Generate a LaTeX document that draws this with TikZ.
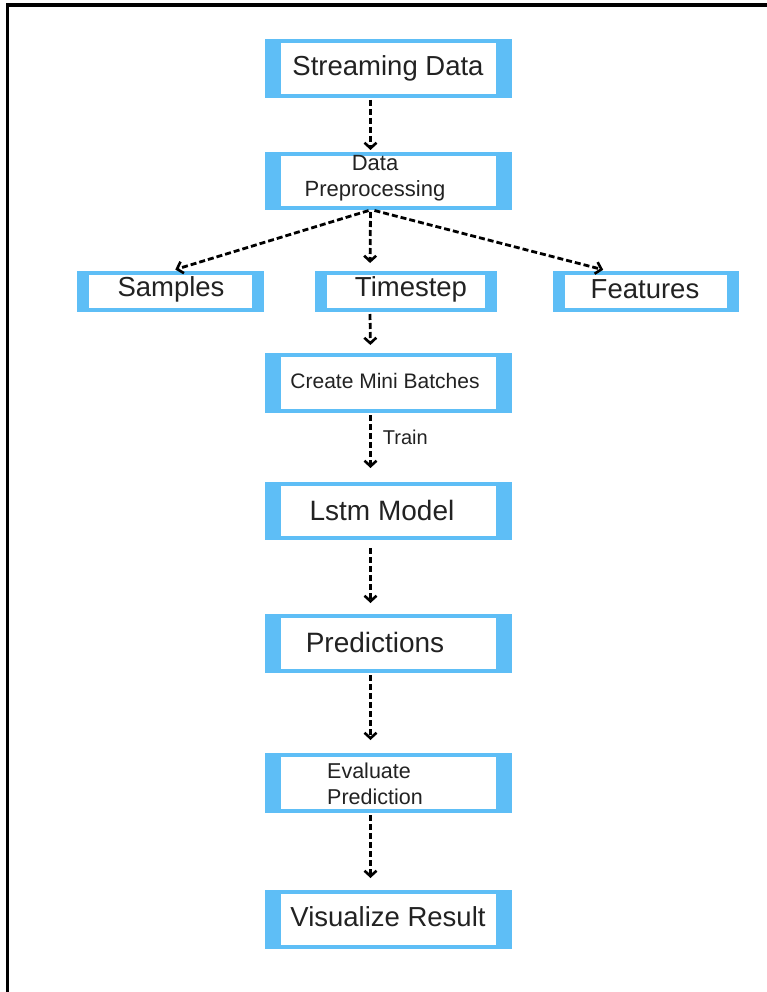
\documentclass[tikz,border=0pt]{standalone}
\usepackage{fontspec}
\setmainfont{Liberation Sans}
\usetikzlibrary{arrows.meta}
\definecolor{skyb}{RGB}{94,190,246}
\definecolor{ink}{RGB}{34,34,34}

\begin{document}
\begin{tikzpicture}[x=1pt,y=-1pt,
  mainbox/.style={rectangle, inner sep=0pt, outer sep=0pt, fill=skyb,
    minimum width=247pt, minimum height=59pt,
    path picture={\fill[white]
      ([xshift=16pt,yshift=4pt]path picture bounding box.south west) rectangle
      ([xshift=-16pt,yshift=-4pt]path picture bounding box.north east);}},
  rowbox/.style={rectangle, inner sep=0pt, outer sep=0pt, fill=skyb,
    minimum height=41pt,
    path picture={\fill[white]
      ([xshift=12pt,yshift=4pt]path picture bounding box.south west) rectangle
      ([xshift=-12pt,yshift=-4pt]path picture bounding box.north east);}},
  bigtext/.style={inner sep=0pt, text=ink, font=\fontsize{27.5}{32}\selectfont},
  smalltext/.style={inner sep=0pt, text=ink, align=center, font=\fontsize{21.5}{26}\selectfont},
  flow/.style={draw=black, line width=2.8pt, dash pattern=on 6pt off 3pt,
    -{Straight Barb[length=5.5pt,width=12pt,line width=2.6pt]}}
]
\useasboundingbox (0,0) rectangle (767,992);

% page frame (left and top edges)
\draw[line width=3.5pt] (7.5,992) -- (7.5,5) -- (767,5);

% boxes of the main column
\node[mainbox] (stream) at (388.5,68.5) {};
\node[mainbox, minimum height=58pt] (prep) at (388.5,181) {};
\node[mainbox, minimum height=60pt] (batch) at (388.5,383) {};
\node[mainbox, minimum height=58pt] (lstm) at (388.5,511) {};
\node[mainbox] (pred) at (388.5,643.5) {};
\node[mainbox, minimum height=60pt] (eval) at (388.5,783) {};
\node[mainbox] (vis) at (388.5,919.5) {};

% the three input dimensions
\node[rowbox, minimum width=187pt] (samples) at (170.5,291.5) {};
\node[rowbox, minimum width=182pt] (timestep) at (406,291.5) {};
\node[rowbox, minimum width=186pt] (features) at (646,291.5) {};

% labels
\node[bigtext] (tstream) at (388,68) {Streaming Data};
\node[smalltext, font=\fontsize{22}{26}\selectfont] (tprep) at (375,178) {Data\\Preprocessing};
\node[bigtext] (tsamples) at (171,289) {Samples};
\node[bigtext] (ttimestep) at (411,289) {Timestep};
\node[bigtext] (tfeatures) at (645,289) {Features};
\node[smalltext, font=\fontsize{21}{26}\selectfont] (tbatch) at (385,381) {Create Mini Batches};
\node[bigtext, font=\fontsize{28}{32}\selectfont] (tlstm) at (382,510) {Lstm Model};
\node[bigtext, font=\fontsize{28}{32}\selectfont] (tpred) at (375,642) {Predictions};
\node[smalltext, align=left] (teval) at (375,784) {Evaluate\\Prediction};
\node[bigtext] (tvis) at (388,917) {Visualize Result};

% connectors
\draw[flow, shorten <=2pt, shorten >=2pt]
  ([xshift=-18pt]stream.south) -- ([xshift=-18pt]prep.north);
\draw[flow, shorten <=2pt, shorten >=5pt]
  ([xshift=-18pt]prep.south) -- (samples.north);
\draw[flow, shorten <=2pt, shorten >=8pt]
  ([xshift=-18pt]prep.south) -- ([xshift=-36pt]timestep.north);
\draw[flow, shorten <=2pt, shorten >=5pt]
  ([xshift=-16pt]prep.south) -- ([xshift=-38pt]features.north);
\draw[flow, shorten <=2pt, shorten >=8pt]
  ([xshift=-36pt]timestep.south) -- ([xshift=-18pt]batch.north);
\draw[flow, shorten <=2pt, shorten >=14pt]
  ([xshift=-18pt]batch.south) -- node[smalltext, pos=0.35, right=11pt, font=\fontsize{20}{24}\selectfont] (ttrain) {Train}
  ([xshift=-18pt]lstm.north);
\draw[flow, shorten <=8pt, shorten >=11pt]
  ([xshift=-18pt]lstm.south) -- ([xshift=-18pt]pred.north);
\draw[flow, shorten <=2pt, shorten >=13pt]
  ([xshift=-18pt]pred.south) -- ([xshift=-18pt]eval.north);
\draw[flow, shorten <=2pt, shorten >=12pt]
  ([xshift=-18pt]eval.south) -- ([xshift=-18pt]vis.north);
\end{tikzpicture}
\end{document}
